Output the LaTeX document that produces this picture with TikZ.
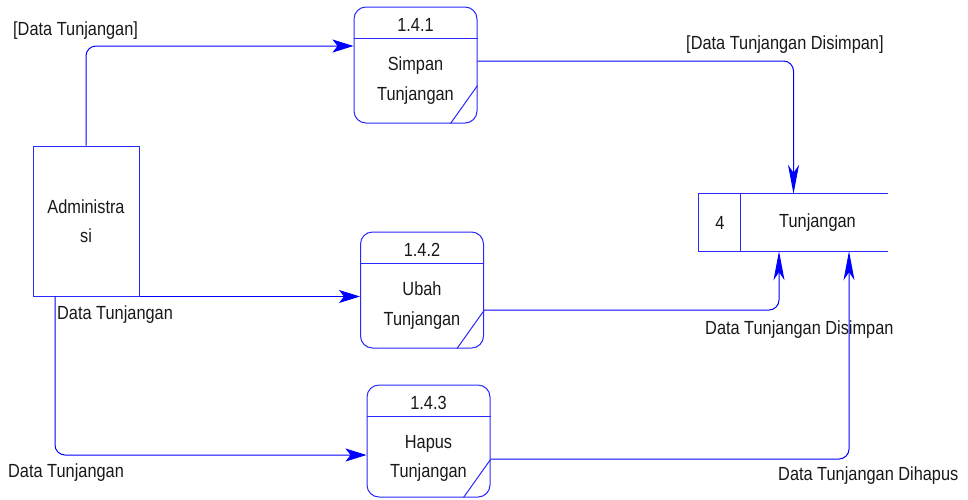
\documentclass[tikz,border=0pt]{standalone}
\usepackage{fontspec}
\setmainfont{Liberation Sans}[FakeStretch=0.86]
\usetikzlibrary{arrows.meta}
\definecolor{dfdblue}{RGB}{0,0,255}
\definecolor{dfdline}{RGB}{40,40,255}
\definecolor{dfdtext}{RGB}{25,25,25}
\begin{document}
\begin{tikzpicture}[x=1pt,y=-1pt,
  every node/.style={font=\fontsize{19pt}{29.5pt}\selectfont, text=dfdtext},
  proc/.style={draw=dfdline, line width=1pt, rounded corners=12pt,
    minimum width=123pt, inner sep=0pt},
  shapeline/.style={draw=dfdline, line width=1pt},
  entity/.style={draw=dfdline, line width=1pt, minimum width=106pt,
    minimum height=150pt, inner sep=0pt, align=center},
  flow/.style={draw=dfdblue, line width=1pt, rounded corners=10pt},
  hflow/.style={flow, -{Stealth[length=21pt,width=13pt,inset=5pt]}},
  vflow/.style={flow, -{Stealth[length=29pt,width=11pt,inset=8pt]}},
  lbl/.style={anchor=west, inner sep=0pt}
]
\useasboundingbox (0,0) rectangle (968,499);

% external entity
\node[entity] (adm) at (86,221) {Administra\\si};

% processes
\node[proc, minimum height=116pt] (p1) at (415.5,65) {};
\node[proc, minimum height=116pt] (p2) at (422,290) {};
\node[proc, minimum height=112pt] (p3) at (428.5,441) {};

\foreach \p/\num/\name in {p1/1.4.1/Simpan, p2/1.4.2/Ubah, p3/1.4.3/Hapus}{
  \draw[shapeline] ([yshift=-32pt]\p.north west) -- ([yshift=-32pt]\p.north east);
  \draw[shapeline] ([xshift=-27pt]\p.south east) -- ([yshift=38pt]\p.south east);
  \node (\p num) at ([yshift=-18pt]\p.north) {\num};
  \node[align=center] (\p txt) at ([yshift=-74pt]\p.north) {\name\\Tunjangan};
}

% data store
\node[minimum width=189pt, minimum height=57pt, inner sep=0pt] (st) at (793.5,222.5) {};
\draw[shapeline] (st.north east) -- (st.north west) -- (st.south west) -- (st.south east);
\draw[shapeline] ([xshift=42pt]st.north west) -- ([xshift=42pt]st.south west);
\node (stnum) at ([xshift=21pt]st.west) {4};
\node (stname) at ([xshift=24pt]st.center) {Tunjangan};

% data flows
\draw[hflow] (adm.north) |- ([yshift=19pt]p1.west);
\draw[hflow] (adm.south east) -- (adm.south east -| p2.west);
\draw[hflow] ([xshift=-31pt]adm.south) |- ([yshift=-14pt]p3.west);
\draw[vflow] ([yshift=4pt]p1.east) -| (st.north);
\draw[vflow] ([yshift=-20pt]p2.east) -| ([xshift=-14.5pt]st.south);
\draw[vflow] ([yshift=-18pt]p3.east) -| ([xshift=55.5pt]st.south);

% flow labels
\node[lbl] (l1) at (13,31) {[Data Tunjangan]};
\node[lbl] (l2) at (57,315) {Data Tunjangan};
\node[lbl] (l3) at (8,473) {Data Tunjangan};
\node[lbl] (l4) at (686,45) {[Data Tunjangan Disimpan]};
\node[lbl] (l5) at (705,330) {Data Tunjangan Disimpan};
\node[lbl] (l6) at (778,476) {Data Tunjangan Dihapus};
\end{tikzpicture}
\end{document}
